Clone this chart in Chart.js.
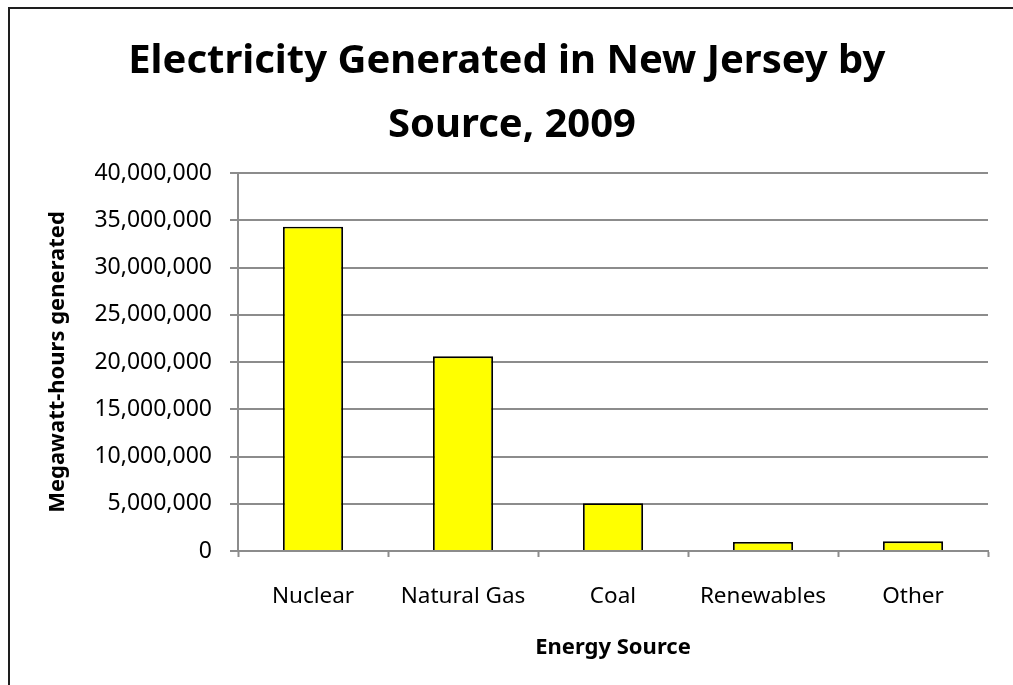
<!DOCTYPE html>
<html>
<head>
    <title>Electricity Generated in New Jersey by Source, 2009</title>
    <script src="https://cdn.jsdelivr.net/npm/chart.js"></script>
    <style>
        html, body { margin: 0; padding: 0; background: #fff; overflow: hidden; }
        #wrap { position: relative; width: 1013px; height: 685px; }
        #frame { position: absolute; left: 8px; top: 7px; width: 1020px; height: 700px;
                 border: 2px solid #1e1e1e; box-sizing: border-box; pointer-events: none; }
        canvas { position: absolute; left: 0; top: 0; }
    </style>
</head>
<body>
    <div id="wrap">
        <canvas id="genChart" width="1013" height="685"></canvas>
        <div id="frame"></div>
    </div>

    <script>
        // Generation by source, MWh
        const sources = ['Nuclear', 'Natural Gas', 'Coal', 'Renewables', 'Other'];
        const megawattHours = [34320000, 20600000, 5050000, 950000, 1020000];
        const yTicks = [0, 5000000, 10000000, 15000000, 20000000, 25000000, 30000000, 35000000, 40000000];

        const family = '"Noto Sans", "Open Sans", sans-serif';
        const gridGray = '#8c8c8c';

        new Chart(document.getElementById('genChart'), {
            type: 'bar',
            data: {
                labels: sources,
                datasets: [{
                    label: 'Megawatt-hours generated',
                    data: megawattHours,
                    backgroundColor: '#ffff00',
                    borderColor: '#000000',
                    borderWidth: 1.8,
                    barPercentage: 0.4,
                    categoryPercentage: 1.0
                }]
            },
            options: {
                responsive: false,
                animation: false,
                layout: { padding: { left: 36, right: 25, top: 0, bottom: 0 } },
                plugins: {
                    legend: { display: false },
                    tooltip: { enabled: false },
                    title: {
                        display: true,
                        // trailing space keeps the first line's centring like the original wrap
                        text: ['Electricity Generated in New Jersey by ', 'Source, 2009'],
                        color: '#000',
                        font: { family, size: 40, weight: 'bold', lineHeight: 64 / 40 },
                        padding: { top: 30, bottom: 15 }
                    }
                },
                scales: {
                    x: {
                        grid: {
                            offset: true,
                            drawOnChartArea: false,
                            drawTicks: true,
                            tickLength: 6,
                            tickWidth: 2,
                            tickColor: gridGray
                        },
                        border: { color: gridGray, width: 2 },
                        ticks: { color: '#000', font: { family, size: 22.5 }, padding: 26, maxRotation: 0 },
                        title: {
                            display: true,
                            text: 'Energy Source',
                            color: '#000',
                            font: { family, size: 22, weight: 'bold' },
                            padding: { top: 10, bottom: 24 }
                        },
                        afterFit: scale => { scale.height = 134; }
                    },
                    y: {
                        min: 0,
                        max: 40000000,
                        afterBuildTicks: scale => { scale.ticks = yTicks.map(v => ({ value: v })); },
                        grid: {
                            color: gridGray,
                            lineWidth: 2,
                            tickLength: 8
                        },
                        border: { color: gridGray, width: 2 },
                        ticks: {
                            color: '#000',
                            font: { family, size: 23 },
                            padding: 18,
                            callback: v => v.toLocaleString('en-US')
                        },
                        title: {
                            display: true,
                            text: 'Megawatt-hours generated',
                            color: '#000',
                            font: { family, size: 22, weight: 'bold' },
                            padding: { top: 9, bottom: 0 }
                        },
                        afterFit: scale => { scale.width = 202; }
                    }
                }
            }
        });
    </script>
</body>
</html>
